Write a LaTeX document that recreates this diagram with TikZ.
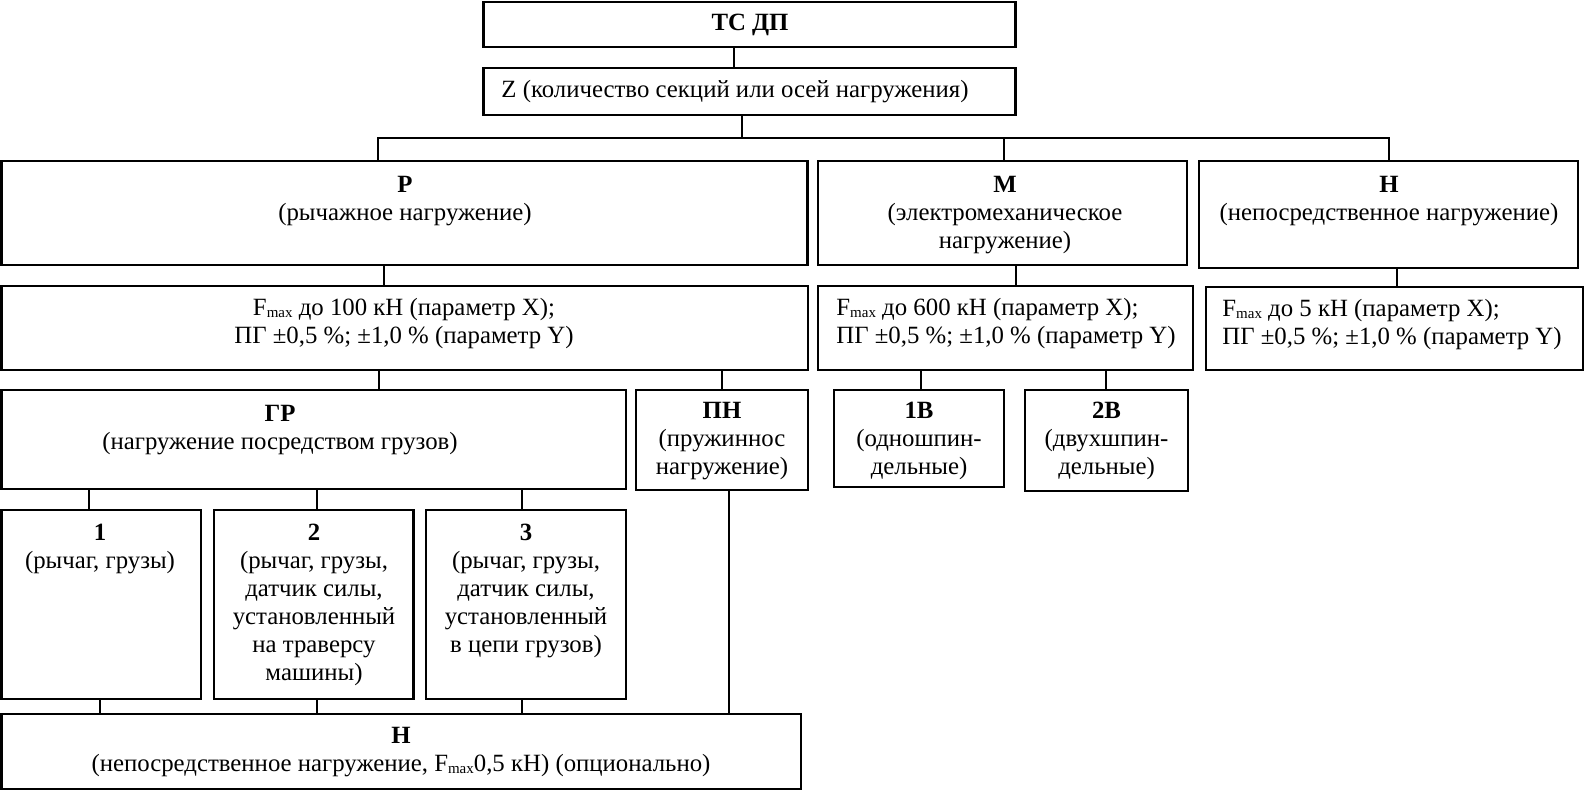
\documentclass[tikz,border=0pt]{standalone}
\usepackage{fontspec}
\setmainfont{Liberation Serif}
\usetikzlibrary{fit}
\newcommand{\Fm}{F\raisebox{-0.8pt}{\fontsize{7.5}{8}\selectfont max}}
\begin{document}
\begin{tikzpicture}[x=0.5pt,y=-0.5pt,
  box/.style={draw, line width=1.3pt, inner sep=0pt},
  txt/.style={inner sep=0pt, align=center, font=\fontsize{12.4}{14}\selectfont},
  link/.style={line width=1pt}]
\useasboundingbox (0,0) rectangle (1585,791);
% boxes
\node[box, fit={(483.5,2)(1015.5,47)}] (nTS) {};
\node[box, fit={(483.5,68)(1015.5,115)}] (nZ) {};
\node[box, fit={(1.5,161)(807.5,265)}] (nP) {};
\node[box, fit={(818,161)(1187,265)}] (nM) {};
\node[box, fit={(1199,161)(1578,268)}] (nH) {};
\node[box, fit={(1.5,286)(808,370)}] (nPF) {};
\node[box, fit={(818,286)(1193,370)}] (nMF) {};
\node[box, fit={(1206,287)(1583,370)}] (nHF) {};
\node[box, fit={(1.5,390)(626,489)}] (nGR) {};
\node[box, fit={(636,390)(808,490)}] (nPN) {};
\node[box, fit={(834,390)(1004,487)}] (nV1) {};
\node[box, fit={(1025,390)(1188,491)}] (nV2) {};
\node[box, fit={(1.5,510)(201,699)}] (nB1) {};
\node[box, fit={(214,510)(413.5,699)}] (nB2) {};
\node[box, fit={(426,510)(626,699)}] (nB3) {};
\node[box, fit={(1.5,714)(801,789)}] (nHB) {};
% texts
\node[txt] (tTS) at (750,25) {\bfseries ТС ДП};
\node[txt, anchor=west] (tZ) at (501,92) {Z (количество секций или осей нагружения)};
\node[txt] (tP) at (405,201) {\textbf{Р}\\(рычажное нагружение)};
\node[txt] (tM) at (1005,215) {\textbf{М}\\(электромеханическое\\нагружение)};
\node[txt] (tH) at (1389,201) {\textbf{Н}\\(непосредственное нагружение)};
\node[txt] (tPF) at (404,324) {\Fm{} до 100 кН (параметр X);\\ПГ ±0,5 \%; ±1,0 \% (параметр Y)};
\node[txt, align=left, anchor=west] (tMF) at (836,324) {\Fm{} до 600 кН (параметр X);\\ПГ ±0,5 \%; ±1,0 \% (параметр Y)};
\node[txt, align=left, anchor=west] (tHF) at (1222,325) {\Fm{} до 5 кН (параметр X);\\ПГ ±0,5 \%; ±1,0 \% (параметр Y)};
\node[txt] (tGR) at (280,430) {\textbf{ГР}\\(нагружение посредством грузов)};
\node[txt] (tPN) at (722,441) {\textbf{ПН}\\(пружиннос\\нагружение)};
\node[txt] (tV1) at (919,441) {\textbf{1В}\\(одношпин-\\дельные)};
\node[txt] (tV2) at (1106.5,441) {\textbf{2В}\\(двухшпин-\\дельные)};
\node[txt] (t1) at (100,549) {\textbf{1}\\(рычаг, грузы)};
\node[txt] (t2) at (314,605) {\textbf{2}\\(рычаг, грузы,\\датчик силы,\\установленный\\на траверсу\\машины)};
\node[txt] (t3) at (526,591) {\textbf{3}\\(рычаг, грузы,\\датчик силы,\\установленный\\в цепи грузов)};
\node[txt] (tHB) at (401,752) {\textbf{Н}\\(непосредственное нагружение, \Fm{}0,5 кН) (опционально)};
% connectors
\coordinate (busZ) at (742,138);
\coordinate (busL) at (378,138);
\coordinate (busM) at (1004,138);
\coordinate (busR) at (1389,138);
\draw[link] (nTS.south -| 734,0) -- (nZ.north -| 734,0);
\draw[link] (nZ.south -| busZ) -- (busZ);
\draw[link] (nP.north -| busL) -- (busL) -- (busR) -- (nH.north -| busR);
\draw[link] (busM) -- (nM.north -| busM);
\draw[link] (nP.south -| 384,0) -- (nPF.north -| 384,0);
\draw[link] (nM.south -| 1016,0) -- (nMF.north -| 1016,0);
\draw[link] (nH.south -| 1397,0) -- (nHF.north -| 1397,0);
\draw[link] (nPF.south -| 379,0) -- (nGR.north -| 379,0);
\draw[link] (nPF.south -| 721.6,0) -- (nPN.north -| 721.6,0);
\draw[link] (nMF.south -| 921,0) -- (nV1.north -| 921,0);
\draw[link] (nMF.south -| 1106,0) -- (nV2.north -| 1106,0);
\draw[link] (nGR.south -| 89,0) -- (nB1.north -| 89,0);
\draw[link] (nGR.south -| 317,0) -- (nB2.north -| 317,0);
\draw[link] (nGR.south -| 522,0) -- (nB3.north -| 522,0);
\draw[link] (nB1.south -| 100,0) -- (nHB.north -| 100,0);
\draw[link] (nB2.south -| 317,0) -- (nHB.north -| 317,0);
\draw[link] (nB3.south -| 522,0) -- (nHB.north -| 522,0);
\draw[link] (nPN.south -| 729,0) -- (nHB.north -| 729,0);
\end{tikzpicture}
\end{document}
